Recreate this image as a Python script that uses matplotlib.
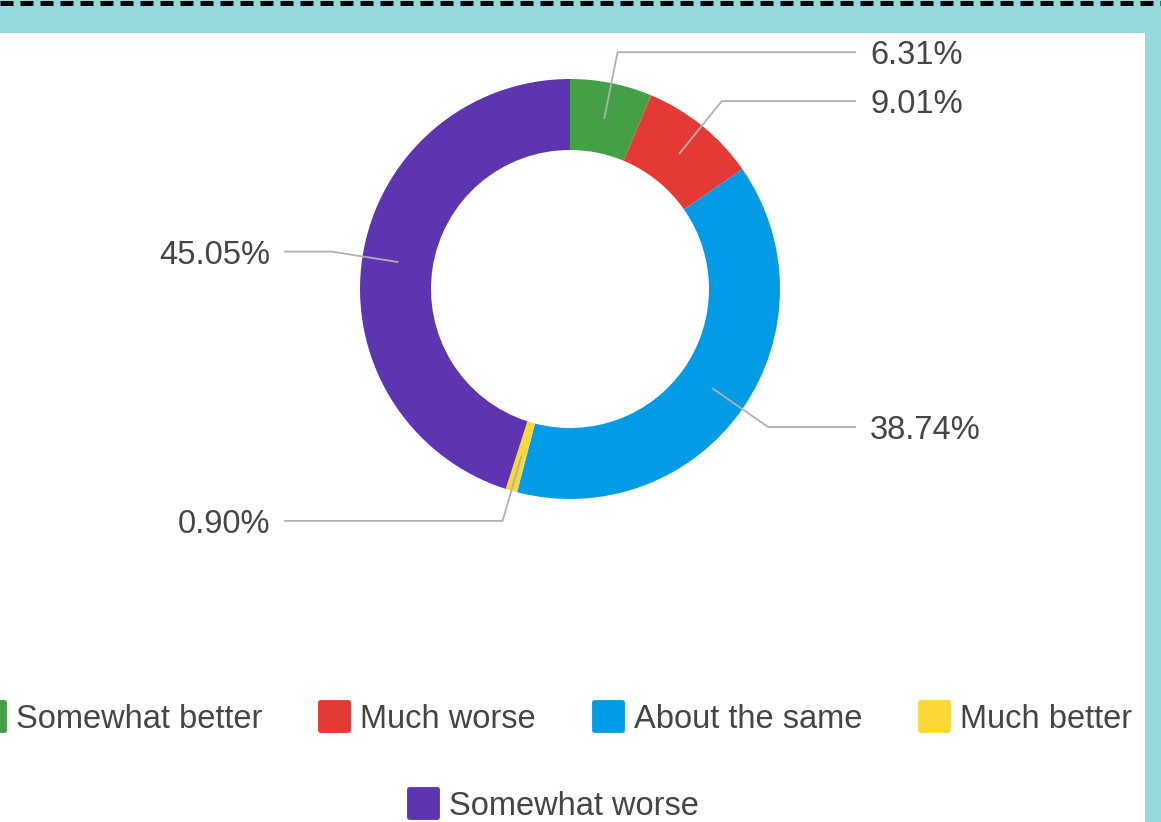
import numpy as np
import matplotlib.pyplot as plt
from matplotlib.lines import Line2D
from matplotlib.markers import MarkerStyle
from matplotlib.patches import Rectangle

# respuestas de la encuesta, en el orden del anillo (sentido horario desde arriba)
categories = ['Somewhat better', 'Much worse', 'About the same', 'Much better', 'Somewhat worse']
percentages = [6.31, 9.01, 38.74, 0.90, 45.05]
colors = ['#43A047', '#E53935', '#039BE5', '#FDD835', '#5E35B1']

# orden de la leyenda
legend_row1 = ['Somewhat better', 'Much worse', 'About the same', 'Much better']
legend_row2 = ['Somewhat worse']

W, H = 1161, 822
plt.rcParams['font.family'] = ['Liberation Sans', 'DejaVu Sans']
text_color = '#454545'
fs = 23.5

fig = plt.figure(figsize=(W / 100, H / 100), dpi=100)
fig.patch.set_facecolor('#97D9DB')
ax = fig.add_axes([0, 0, 1, 1])

# panel blanco y borde punteado superior
ax.add_patch(Rectangle((0, 0), 1145, H - 33, facecolor='white', edgecolor='none', zorder=0))
ax.plot([0, W], [H - 3, H - 3], color='black', lw=3.6, ls=(0, (2.6, 1.4)), zorder=1,
        dash_capstyle='butt')

# anillo
cx, cy, R, ancho = 570, 533, 210, 71
wedges, _ = ax.pie(percentages, colors=colors, startangle=90, counterclock=False,
                   radius=R, center=(cx, cy), frame=True,
                   wedgeprops=dict(width=ancho, edgecolor='none'))
ax.set_xlim(0, W)
ax.set_ylim(0, H)
ax.set_aspect('equal')
ax.axis('off')

# etiquetas con líneas guía
r_mid = R - ancho / 2
for w, pct in zip(wedges, percentages):
    ang = np.deg2rad((w.theta1 + w.theta2) / 2)
    x0, y0 = cx + r_mid * np.cos(ang), cy + r_mid * np.sin(ang)
    x1, y1 = cx + 1.15 * R * np.cos(ang), cy + 1.15 * R * np.sin(ang)
    lado = 1 if np.cos(ang) >= 0 else -1
    x2 = cx + lado * 285
    ax.plot([x0, x1, x2], [y0, y1, y1], color='#b0b0b0', lw=1.3, zorder=3)
    ax.text(x2 + lado * 15, y1, f'{pct:.2f}%', ha='left' if lado > 0 else 'right',
            va='center_baseline', fontsize=fs, color=text_color)

color_de = dict(zip(categories, colors))
cuadro = MarkerStyle('s', joinstyle='round')


def handles(nombres):
    # cuadrados con esquinas redondeadas (borde grueso con unión redonda)
    return [Line2D([], [], ls='none', marker=cuadro, markersize=20, markeredgewidth=3.5,
                   markerfacecolor=color_de[n], markeredgecolor=color_de[n],
                   label=n) for n in nombres]


opts = dict(bbox_transform=ax.transData, frameon=False, fontsize=fs, handlelength=1.0,
            handletextpad=0.3, labelcolor=text_color, loc='center')
leg1 = ax.legend(handles=handles(legend_row1), bbox_to_anchor=(553, 103), ncol=4,
                 columnspacing=1.7, **opts)
ax.add_artist(leg1)
leg2 = ax.legend(handles=handles(legend_row2), bbox_to_anchor=(553, 16), **opts)

fig.savefig('out.png', dpi=100, facecolor=fig.get_facecolor())
